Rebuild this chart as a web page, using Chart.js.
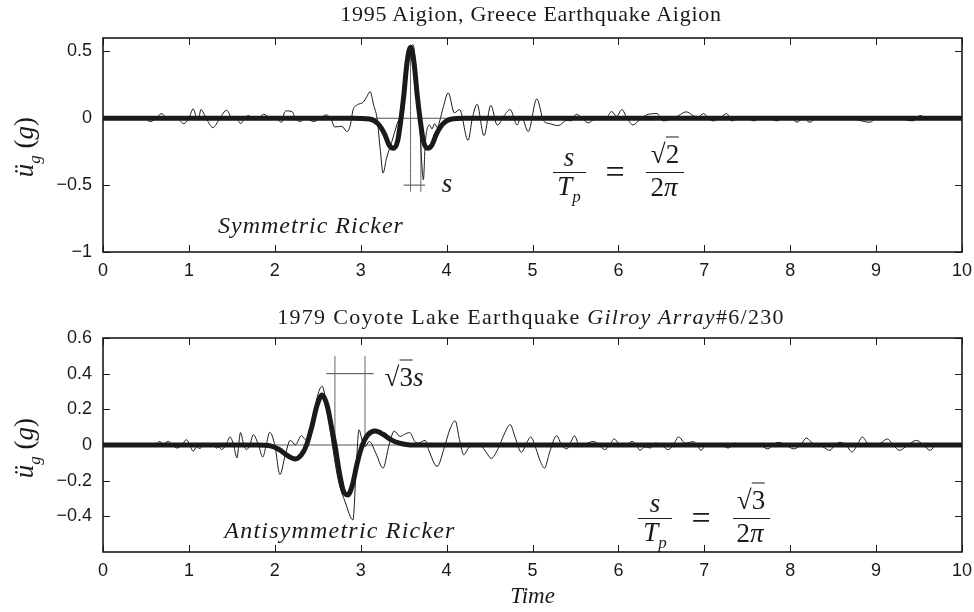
<!DOCTYPE html>
<html>
<head>
<meta charset="utf-8">
<script src="https://cdn.jsdelivr.net/npm/chart.js@4.4.1/dist/chart.umd.min.js"></script>
<style>
  body { margin: 0; background: #fff; }
  #wrap { position: relative; width: 974px; height: 612px; overflow: hidden; font-family: "Liberation Serif", serif; color: #1a1a1a; }
  canvas { position: absolute; left: 0; }
  .lbl { position: absolute; transform: translate(-50%, -50%); white-space: nowrap; line-height: 1; }
  .title { font-size: 22px; letter-spacing: 0.75px; }
  .math { font-style: italic; font-size: 24px; }
  .frac { font-size: 27px; }
  .eq { font-size: 34px; font-style: normal; }
  .up { font-style: normal; }
  .bar { position: absolute; height: 0; border-top: 1.3px solid #1a1a1a; }
  .rad { border-top: 1.3px solid #1a1a1a; padding-top: 1px; }
  .ylab { position: absolute; transform: translate(-50%, -50%) rotate(-90deg); font-size: 27px; white-space: nowrap; line-height: 1; }
  sub { font-size: 17px; }
</style>
</head>
<body>
<div id="wrap">
  <canvas id="aigion" width="974" height="290" style="top:0"></canvas>
  <canvas id="gilroy" width="974" height="322" style="top:290px"></canvas>

  <div class="lbl title" style="left:531px; top:14px">1995 Aigion, Greece Earthquake Aigion</div>
  <div class="lbl title" style="left:531px; top:317px; letter-spacing:1.3px">1979 Coyote Lake Earthquake <i>Gilroy Array</i>#6/230</div>

  <div class="ylab" style="left:27px; top:147px"><i>ü</i><sub><i>g</i></sub>&nbsp;(<i>g</i>)</div>
  <div class="ylab" style="left:27px; top:448px"><i>ü</i><sub><i>g</i></sub>&nbsp;(<i>g</i>)</div>

  <!-- top annotations -->
  <div class="lbl math" style="left:447px; top:183px; font-size:27px">s</div>
  <div class="lbl math" style="left:311px; top:225px; letter-spacing:1px">Symmetric Ricker</div>
  <div class="lbl math frac" style="left:569px; top:157px">s</div>
  <div class="bar" style="left:553px; top:172px; width:33px"></div>
  <div class="lbl math frac" style="left:569px; top:189px">T<sub>p</sub></div>
  <div class="lbl eq" style="left:615px; top:172px">=</div>
  <div class="lbl math frac up" style="left:665px; top:154px">√<span class="rad">2</span></div>
  <div class="bar" style="left:646px; top:172px; width:38px"></div>
  <div class="lbl math frac up" style="left:664px; top:187px">2<i>π</i></div>

  <!-- bottom annotations -->
  <div class="lbl math frac up" style="left:404px; top:377px">√<span class="rad">3</span><i>s</i></div>
  <div class="lbl math" style="left:340px; top:530px; letter-spacing:1.2px">Antisymmetric Ricker</div>
  <div class="lbl math frac" style="left:655px; top:503px">s</div>
  <div class="bar" style="left:638px; top:518px; width:34px"></div>
  <div class="lbl math frac" style="left:655px; top:535px">T<sub>p</sub></div>
  <div class="lbl eq" style="left:701px; top:518px">=</div>
  <div class="lbl math frac up" style="left:751px; top:500px">√<span class="rad">3</span></div>
  <div class="bar" style="left:733px; top:518px; width:37px"></div>
  <div class="lbl math frac up" style="left:750px; top:533px">2<i>π</i></div>
</div>

<script>
// --- data: [time, acceleration (g)] ---

// 1995 Aigion record (thin line)
const aigionRecord = [
  [0, 0], [0.2, 0], [0.3, 0.005], [0.4, -0.005], [0.48, 0], [0.55, -0.025], [0.62, 0], [0.68, 0.035],
  [0.75, 0], [0.85, 0.005], [0.94, -0.04], [1.0, 0], [1.05, 0.07], [1.09, 0], [1.11, -0.01], [1.14, 0.065],
  [1.2, 0], [1.28, -0.07], [1.36, 0], [1.44, 0.06], [1.5, 0.005], [1.55, 0.01], [1.6, -0.04], [1.65, 0],
  [1.69, 0.02], [1.75, 0], [1.8, -0.005], [1.87, 0.03], [1.95, 0], [2.02, -0.005], [2.08, -0.03],
  [2.11, 0.04], [2.14, 0.055], [2.2, 0.05], [2.24, 0], [2.29, -0.025], [2.36, 0], [2.45, -0.025],
  [2.53, 0], [2.6, 0.025], [2.65, 0], [2.7, -0.065], [2.78, -0.06], [2.84, -0.1], [2.88, -0.05],
  [2.91, 0.06], [2.96, 0.1], [3.03, 0.12], [3.07, 0.16], [3.11, 0.2], [3.15, 0.1], [3.19, 0],
  [3.23, -0.25], [3.26, -0.41], [3.3, -0.3], [3.36, -0.18], [3.42, -0.05], [3.47, 0.05], [3.52, 0.3],
  [3.57, 0.5], [3.61, 0.55], [3.65, 0.3], [3.69, -0.1], [3.73, -0.46], [3.75, -0.2], [3.77, -0.09],
  [3.8, -0.05], [3.83, -0.08], [3.86, -0.04], [3.89, -0.07], [3.92, -0.02], [3.96, 0.08], [4.02, 0.19],
  [4.09, 0.04], [4.15, 0.065], [4.25, -0.165], [4.3, 0], [4.355, 0.105], [4.435, -0.13], [4.515, 0.097],
  [4.59, -0.052], [4.67, 0.02], [4.74, 0.065], [4.82, -0.05], [4.87, 0.015], [4.95, -0.1], [5.05, 0.145],
  [5.13, -0.02], [5.2, -0.04], [5.3, -0.055], [5.4, -0.015], [5.45, -0.02], [5.51, 0.03], [5.58, 0],
  [5.65, -0.035], [5.72, -0.01], [5.8, -0.01], [5.86, 0], [5.92, 0.05], [5.98, 0.015], [6.04, 0.065],
  [6.1, 0], [6.17, -0.05], [6.25, -0.01], [6.35, 0.03], [6.45, 0.035], [6.52, -0.02], [6.6, -0.01],
  [6.7, 0.02], [6.79, 0.048], [6.87, 0.02], [6.93, 0.01], [6.99, 0.035], [7.05, 0], [7.1, -0.02],
  [7.18, 0], [7.26, 0.035], [7.32, -0.02], [7.4, 0], [7.5, 0.005], [7.57, -0.02], [7.65, 0], [7.75, 0.005],
  [7.84, -0.02], [7.92, 0], [8.0, 0.005], [8.08, -0.03], [8.15, 0], [8.23, -0.03], [8.3, 0], [8.5, 0.005],
  [8.7, 0], [8.93, -0.03], [9.0, 0], [9.2, 0.005], [9.43, -0.02], [9.51, 0.02], [9.6, 0], [10, 0]
];

// symmetric Ricker fit (thick line)
const rickerSym = [
  [0, 0], [2.9, 0], [3.1, -0.005], [3.2, -0.04], [3.28, -0.12], [3.33, -0.2], [3.38, -0.225],
  [3.43, -0.17], [3.47, 0], [3.5, 0.16], [3.54, 0.42], [3.58, 0.53], [3.62, 0.42], [3.66, 0.16],
  [3.69, 0], [3.73, -0.17], [3.78, -0.225], [3.83, -0.2], [3.88, -0.12], [3.96, -0.04], [4.06, -0.005],
  [4.2, 0], [10, 0]
];

// 1979 Gilroy Array #6 record (thin line)
const gilroyRecord = [
  [0, 0], [0.6, 0], [0.66, 0.02], [0.7, 0.005], [0.76, 0.02], [0.81, 0], [0.86, -0.017], [0.92, 0],
  [0.97, 0.03], [1.01, 0], [1.05, -0.035], [1.09, -0.01], [1.13, -0.02], [1.17, 0.01], [1.22, 0],
  [1.28, 0.005], [1.32, -0.017], [1.35, -0.01], [1.38, -0.026], [1.43, 0], [1.48, 0.045], [1.52, 0],
  [1.56, -0.073], [1.58, 0], [1.6, 0.07], [1.64, 0], [1.67, -0.026], [1.71, 0], [1.75, 0.058], [1.81, 0],
  [1.86, -0.067], [1.9, 0], [1.94, 0.071], [2.0, 0], [2.06, -0.166], [2.12, -0.06], [2.18, 0.026],
  [2.24, 0.002], [2.31, 0.052], [2.36, 0.03], [2.43, 0.12], [2.5, 0.28], [2.55, 0.33], [2.61, 0.2],
  [2.67, 0], [2.74, -0.2], [2.82, -0.32], [2.91, -0.42], [2.95, -0.1], [2.98, 0.085], [3.02, 0.02],
  [3.05, -0.01], [3.1, 0.02], [3.18, -0.05], [3.26, -0.13], [3.33, 0], [3.39, 0.078], [3.46, 0.048],
  [3.51, 0.06], [3.57, 0.07], [3.63, 0.02], [3.67, 0.011], [3.75, 0.026], [3.79, -0.026], [3.89, -0.12],
  [3.97, -0.02], [4.04, 0.09], [4.1, 0.136], [4.15, 0.03], [4.2, -0.055], [4.25, -0.02], [4.31, 0],
  [4.4, -0.005], [4.46, -0.04], [4.52, -0.075], [4.6, -0.02], [4.67, 0.06], [4.74, 0.114], [4.8, 0.04],
  [4.87, -0.041], [4.93, 0.01], [4.98, 0.045], [5.04, -0.02], [5.09, -0.09], [5.14, -0.129], [5.2, -0.04],
  [5.28, 0.052], [5.34, 0], [5.4, -0.022], [5.45, 0.02], [5.49, 0.052], [5.53, 0.01], [5.57, -0.008],
  [5.64, 0.01], [5.71, 0.02], [5.78, 0], [5.84, -0.026], [5.9, 0], [5.95, 0.034], [6.0, 0.01],
  [6.06, -0.008], [6.11, 0.005], [6.16, 0.02], [6.21, 0], [6.25, -0.03], [6.31, -0.01], [6.37, -0.017],
  [6.43, 0.011], [6.5, 0], [6.58, -0.026], [6.64, 0], [6.7, 0.045], [6.78, 0.01], [6.87, 0.019],
  [6.92, 0], [6.96, -0.03], [7.02, 0], [7.1, 0.005], [7.2, 0], [7.28, -0.017], [7.36, 0.011], [7.45, 0],
  [7.55, 0.005], [7.65, 0], [7.74, -0.022], [7.8, 0], [7.86, 0.015], [7.95, 0], [8.04, -0.022], [8.12, 0],
  [8.19, 0.039], [8.26, 0.01], [8.31, 0.005], [8.38, -0.01], [8.46, -0.03], [8.52, 0], [8.58, 0.015],
  [8.65, 0], [8.72, -0.039], [8.78, 0], [8.84, 0.045], [8.9, 0.01], [8.97, 0], [9.05, 0.01], [9.13, 0.034],
  [9.2, 0], [9.27, -0.03], [9.37, 0], [9.47, 0.026], [9.55, 0], [9.63, -0.03], [9.7, 0], [10, 0]
];

// antisymmetric Ricker fit (thick line)
const rickerAnti = [
  [0, 0], [1.8, 0], [1.95, -0.005], [2.05, -0.025], [2.15, -0.06], [2.24, -0.078], [2.31, -0.055],
  [2.37, 0], [2.43, 0.1], [2.49, 0.22], [2.55, 0.28], [2.61, 0.22], [2.66, 0.1], [2.7, 0], [2.75, -0.15],
  [2.8, -0.26], [2.85, -0.28], [2.9, -0.23], [2.96, -0.1], [3.02, 0], [3.08, 0.055], [3.17, 0.078],
  [3.26, 0.06], [3.35, 0.03], [3.45, 0.01], [3.55, 0.002], [3.7, 0], [10, 0]
];

// width markers
const symMarkTimes = [3.58, 3.70];
const symMarkTops = [0.55, 0];
const symMarkBottom = -0.55;
const symBarTimes = [3.50, 3.75];
const symBarLevel = -0.5;

const antiMarkTimes = [2.70, 3.05];
const antiMarkTop = 0.5;
const antiMarkBottom = 0;
const antiBarTimes = [2.60, 3.15];
const antiBarLevel = 0.4;

const timeRange = [0, 10];
const aigionRange = [-1, 0.6];
const aigionTicks = [-1, -0.5, 0, 0.5];
const gilroyRange = [-0.6, 0.6];
const gilroyTicks = [-0.4, -0.2, 0, 0.2, 0.4, 0.6];

const INK = "#1a1a1a";

function toXY(points) {
  return points.map(([x, y]) => ({ x, y }));
}

function lineSet(data, width, color, order) {
  return {
    data,
    showLine: true,
    borderColor: color,
    borderWidth: width,
    pointRadius: 0,
    cubicInterpolationMode: "monotone",
    order,
  };
}

function markerSets(times, tops, bottom, barTimes, barLevel) {
  const sets = times.map((t, i) =>
    lineSet([{ x: t, y: Array.isArray(tops) ? tops[i] : tops }, { x: t, y: bottom }], 1, "#666", 4)
  );
  sets.push(lineSet([{ x: barTimes[0], y: barLevel }, { x: barTimes[1], y: barLevel }], 1, "#444", 4));
  return sets;
}

const framePlugin = {
  id: "frame",
  afterDatasetsDraw(chart) {
    const { ctx, chartArea: a, scales } = chart;
    ctx.save();
    ctx.strokeStyle = INK;
    ctx.lineWidth = 1;
    ctx.beginPath();
    scales.x.ticks.forEach((t) => {
      const px = Math.round(scales.x.getPixelForValue(t.value)) + 0.5;
      ctx.moveTo(px, a.bottom);
      ctx.lineTo(px, a.bottom - 7);
      ctx.moveTo(px, a.top);
      ctx.lineTo(px, a.top + 7);
    });
    scales.y.ticks.forEach((t) => {
      const py = Math.round(scales.y.getPixelForValue(t.value)) + 0.5;
      ctx.moveTo(a.left, py);
      ctx.lineTo(a.left + 7, py);
      ctx.moveTo(a.right, py);
      ctx.lineTo(a.right - 7, py);
    });
    ctx.stroke();
    ctx.lineWidth = 1.6;
    ctx.strokeRect(a.left, a.top, a.right - a.left, a.bottom - a.top);
    ctx.restore();
  },
};

function formatTick(v) {
  if (v === 0) return "0";
  return v < 0 ? "\u2212" + Math.abs(v) : String(v);
}

function makeChart(id, opts) {
  const zero = lineSet([{ x: timeRange[0], y: 0 }, { x: timeRange[1], y: 0 }], 1, "#555", 5);
  return new Chart(document.getElementById(id), {
    type: "scatter",
    data: {
      datasets: [
        zero,
        ...opts.markers,
        lineSet(toXY(opts.record), 1, INK, 3),
        lineSet(toXY(opts.ricker), 5, INK, 1),
      ],
    },
    options: {
      responsive: false,
      animation: false,
      events: [],
      layout: { padding: { top: opts.top, right: 12, left: 0, bottom: 0 } },
      plugins: { legend: { display: false }, tooltip: { enabled: false } },
      scales: {
        x: {
          type: "linear",
          min: timeRange[0],
          max: timeRange[1],
          grid: { display: false, drawTicks: false },
          border: { display: false },
          ticks: {
            stepSize: 1,
            padding: 8,
            color: INK,
            font: { family: "Liberation Sans", size: 18 },
          },
          title: opts.xTitle
            ? {
                display: true,
                text: opts.xTitle,
                color: INK,
                padding: { top: 0, bottom: 1 },
                font: { family: "Liberation Serif", size: 23, style: "italic" },
              }
            : { display: false },
          afterFit: (s) => {
            s.height = opts.xHeight;
            s.paddingLeft = 0;
            s.paddingRight = 0;
          },
        },
        y: {
          min: opts.range[0],
          max: opts.range[1],
          grid: { display: false, drawTicks: false },
          border: { display: false },
          ticks: {
            padding: 11,
            color: INK,
            font: { family: "Liberation Sans", size: 18 },
            callback: formatTick,
          },
          afterBuildTicks: (s) => {
            s.ticks = opts.ticks.map((v) => ({ value: v }));
          },
          afterFit: (s) => {
            s.width = 103;
            s.paddingTop = 0;
            s.paddingBottom = 0;
          },
        },
      },
    },
    plugins: [framePlugin],
  });
}

makeChart("aigion", {
  record: aigionRecord,
  ricker: rickerSym,
  range: aigionRange,
  ticks: aigionTicks,
  markers: markerSets(symMarkTimes, symMarkTops, symMarkBottom, symBarTimes, symBarLevel),
  top: 38,
  xHeight: 38,
});

makeChart("gilroy", {
  record: gilroyRecord,
  ricker: rickerAnti,
  range: gilroyRange,
  ticks: gilroyTicks,
  markers: markerSets(antiMarkTimes, antiMarkTop, antiMarkBottom, antiBarTimes, antiBarLevel),
  top: 48,
  xHeight: 60,
  xTitle: "Time",
});
</script>
</body>
</html>
